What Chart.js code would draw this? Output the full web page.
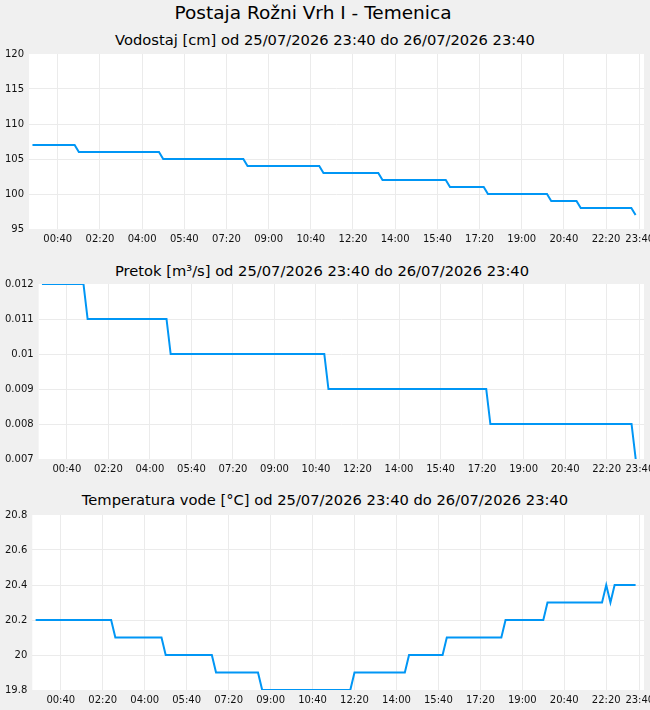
<!DOCTYPE html>
<html>
<head>
<meta charset="utf-8">
<script src="https://cdn.jsdelivr.net/npm/chart.js@4.4.1/dist/chart.umd.min.js"></script>
<style>
  html, body { margin: 0; padding: 0; background: #f0f0f0; }
  body { width: 650px; height: 710px; position: relative; overflow: hidden; font-family: 'DejaVu Sans', sans-serif; color: #000; }
  .title { position: absolute; left: 0; width: 650px; text-align: center; white-space: nowrap; }
  .main { top: 2px; font-size: 18.5px; left: -12px; }
  .sub { font-size: 14.7px; }
  .panel { position: absolute; left: -5px; width: 685px; height: 206px; }
</style>
</head>
<body>
<div class="title main">Postaja Rožni Vrh I - Temenica</div>
<div class="title sub" style="top:31px">Vodostaj [cm] od 25/07/2026 23:40 do 26/07/2026 23:40</div>
<div class="title sub" style="top:262px; left:-3px">Pretok [m³/s] od 25/07/2026 23:40 do 26/07/2026 23:40</div>
<div class="title sub" style="top:491px">Temperatura vode [°C] od 25/07/2026 23:40 do 26/07/2026 23:40</div>
<div class="panel" style="top:43px"><canvas id="level"></canvas></div>
<div class="panel" style="top:273px"><canvas id="flow"></canvas></div>
<div class="panel" style="top:504px"><canvas id="temp"></canvas></div>
<script>
// x values are minutes after 25/07/2026 23:40
const tickMinutes = [60, 160, 260, 360, 460, 560, 660, 760, 860, 960, 1060, 1160, 1260, 1360, 1440];
const tickLabels = ['00:40', '02:20', '04:00', '05:40', '07:20', '09:00', '10:40', '12:20', '14:00', '15:40', '17:20', '19:00', '20:40', '22:20', '23:40'];

// Vodostaj [cm]
const levelTimes = [0, 100, 110, 300, 310, 500, 510, 680, 690, 820, 830, 980, 990, 1070, 1080, 1220, 1230, 1290, 1300, 1420, 1430];
const levelValues = [107, 107, 106, 106, 105, 105, 104, 104, 103, 103, 102, 102, 101, 101, 100, 100, 99, 99, 98, 98, 97];
const levelTicks = [95, 100, 105, 110, 115, 120];

// Pretok [m3/s]
const flowTimes = [0, 100, 110, 300, 310, 680, 690, 1070, 1080, 1420, 1430];
const flowValues = [0.012, 0.012, 0.011, 0.011, 0.010, 0.010, 0.009, 0.009, 0.008, 0.008, 0.007];
const flowTicks = [0.007, 0.008, 0.009, 0.010, 0.011, 0.012];

// Temperatura vode [C]
const tempTimes = [0, 180, 190, 300, 310, 420, 430, 530, 540, 750, 760, 880, 890, 970, 980, 1110, 1120, 1210, 1220, 1350, 1360, 1370, 1380, 1430];
const tempValues = [20.2, 20.2, 20.1, 20.1, 20.0, 20.0, 19.9, 19.9, 19.8, 19.8, 19.9, 19.9, 20.0, 20.0, 20.1, 20.1, 20.2, 20.2, 20.3, 20.3, 20.4, 20.3, 20.4, 20.4];
const tempTicks = [19.8, 20.0, 20.2, 20.4, 20.6, 20.8];

const font = { family: 'DejaVu Sans', size: 10 };

const plotBg = {
  id: 'plotBg',
  beforeDraw(chart) {
    const a = chart.chartArea;
    const c = chart.ctx;
    c.save();
    c.fillStyle = '#ffffff';
    c.fillRect(a.left, a.top, a.right - a.left, a.bottom - a.top);
    c.restore();
  }
};

function makeChart(id, times, values, yTicks, decimals) {
  const ctx = document.getElementById(id).getContext('2d');
  return new Chart(ctx, {
    type: 'line',
    data: {
      datasets: [{
        data: times.map((t, i) => ({ x: t, y: values[i] })),
        borderColor: '#0096f5',
        borderWidth: 2,
        pointRadius: 0,
        tension: 0,
        fill: false
      }]
    },
    options: {
      responsive: true,
      maintainAspectRatio: false,
      animation: false,
      layout: { padding: { left: 5, right: 36, top: 7, bottom: 0 } },
      plugins: { legend: { display: false }, tooltip: { enabled: false } },
      scales: {
        x: {
          type: 'linear',
          min: -8,
          max: 1450,
          afterBuildTicks: axis => { axis.ticks = tickMinutes.map(v => ({ value: v })); },
          ticks: {
            font: font,
            color: '#111',
            padding: 4,
            maxRotation: 0,
            autoSkip: false,
            callback: (v, i) => tickLabels[i]
          },
          grid: { color: '#ebebeb', drawTicks: false },
          border: { display: false }
        },
        y: {
          min: yTicks[0],
          max: yTicks[yTicks.length - 1],
          afterBuildTicks: axis => { axis.ticks = yTicks.map(v => ({ value: v })); },
          ticks: {
            font: font,
            color: '#111',
            padding: 5,
            callback: v => String(+v.toFixed(decimals))
          },
          grid: {
            color: c => (c.index === 0 || c.index === yTicks.length - 1) ? 'rgba(0,0,0,0)' : '#ebebeb',
            drawTicks: false
          },
          border: { display: false }
        }
      }
    },
    plugins: [plotBg]
  });
}

makeChart('level', levelTimes, levelValues, levelTicks, 0);
makeChart('flow', flowTimes, flowValues, flowTicks, 3);
makeChart('temp', tempTimes, tempValues, tempTicks, 1);
</script>
</body>
</html>
